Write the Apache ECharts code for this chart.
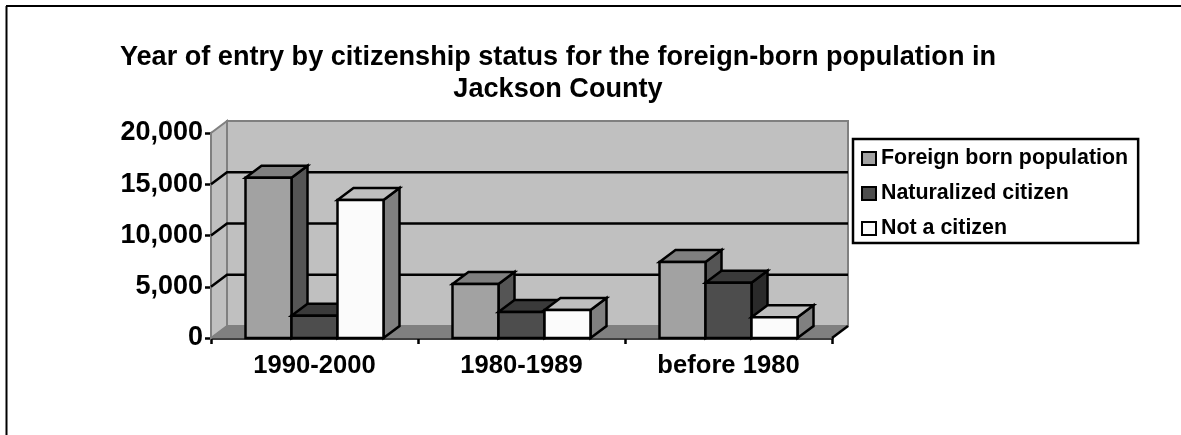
<!DOCTYPE html>
<html>
<head>
<meta charset="utf-8">
<style>
  html, body { margin: 0; padding: 0; background: #fff; }
  #chart { width: 1181px; height: 435px; }
</style>
<script src="https://cdn.jsdelivr.net/npm/echarts@6/dist/echarts.min.js"></script>
</head>
<body>
<div id="chart"></div>
<script>
const categories = ['1990-2000', '1980-1989', 'before 1980']
const seriesNames = ['Foreign born population', 'Naturalized citizen', 'Not a citizen']
const foreignBorn = [15640, 5270, 7415]
const naturalized = [2175, 2540, 5395]
const notCitizen = [13465, 2730, 2020]
const yTicks = [0, 5000, 10000, 15000, 20000]

// front / top / side shades for each series
const shades = [
  ['#a2a2a2', '#7f7f7f', '#555555'],
  ['#4d4d4d', '#3a3a3a', '#2a2a2a'],
  ['#fbfbfb', '#bfbfbf', '#808080']
]

const DEPTH_X = 16
const DEPTH_Y = 12
const BAR_RATIO = 46 / 207

const FONT = '"Liberation Sans", Arial, sans-serif'
const LINE_W = 2.5
const blackLine = { stroke: '#000', lineWidth: LINE_W, fill: null }

function poly(points, fill, stroke, lineWidth) {
  return {
    type: 'polygon',
    shape: { points: points },
    style: { fill: fill, stroke: stroke, lineWidth: lineWidth }
  }
}

// walls, floor and gridlines behind the bars
function renderBackdrop(params, api) {
  const cs = params.coordSys
  const left = cs.x
  const right = cs.x + cs.width
  const top = api.coord([0, yTicks[yTicks.length - 1]])[1]
  const bottom = api.coord([0, 0])[1]
  const children = [
    poly([[left, top], [left + DEPTH_X, top - DEPTH_Y], [left + DEPTH_X, bottom - DEPTH_Y], [left, bottom]], '#c0c0c0', '#808080', 2),
    poly([[left + DEPTH_X, top - DEPTH_Y], [right + DEPTH_X, top - DEPTH_Y], [right + DEPTH_X, bottom - DEPTH_Y], [left + DEPTH_X, bottom - DEPTH_Y]], '#c0c0c0', '#808080', 2),
    poly([[left, bottom], [left + DEPTH_X, bottom - DEPTH_Y], [right + DEPTH_X, bottom - DEPTH_Y], [right, bottom]], '#808080', '#808080', 1),
    { type: 'line', shape: { x1: right, y1: bottom, x2: right + DEPTH_X, y2: bottom - DEPTH_Y }, style: blackLine }
  ]
  yTicks.slice(1, -1).forEach(function(t) {
    const y = api.coord([0, t])[1]
    children.push({
      type: 'polyline',
      shape: { points: [[left, y], [left + DEPTH_X, y - DEPTH_Y], [right + DEPTH_X, y - DEPTH_Y]] },
      style: blackLine
    })
  })
  return { type: 'group', children: children }
}

// one box: front face, top and right side
function makeBarRenderer(seriesIndex) {
  return function(params, api) {
    const catW = api.size([1, 0])[0]
    const w = catW * BAR_RATIO
    const c = api.coord([api.value(0), api.value(1)])
    const base = api.coord([api.value(0), 0])[1]
    const x0 = c[0] - 1.5 * w + seriesIndex * w
    const x1 = x0 + w
    const y = c[1]
    const s = shades[seriesIndex]
    return {
      type: 'group',
      children: [
        poly([[x1, y], [x1 + DEPTH_X, y - DEPTH_Y], [x1 + DEPTH_X, base - DEPTH_Y], [x1, base]], s[2], '#000', LINE_W),
        poly([[x0, y], [x0 + DEPTH_X, y - DEPTH_Y], [x1 + DEPTH_X, y - DEPTH_Y], [x1, y]], s[1], '#000', LINE_W),
        poly([[x0, y], [x1, y], [x1, base], [x0, base]], s[0], '#000', LINE_W)
      ]
    }
  }
}

function barSeries(name, values, i) {
  return {
    name: name,
    type: 'custom',
    renderItem: makeBarRenderer(i),
    itemStyle: { color: shades[i][0] },
    encode: { x: 0, y: 1 },
    data: values.map(function(v, k) { return [k, v] }),
    z: 5 + i
  }
}

const chart = echarts.init(document.getElementById('chart'))
chart.setOption({
  animation: false,
  backgroundColor: '#fff',
  graphic: [
    { type: 'line', z: 100, shape: { x1: 6.5, y1: 6, x2: 6.5, y2: 435 }, style: { stroke: '#000', lineWidth: 2 } },
    { type: 'line', z: 100, shape: { x1: 6, y1: 6, x2: 1181, y2: 6 }, style: { stroke: '#000', lineWidth: 2 } }
  ],
  title: {
    text: 'Year of entry by citizenship status for the foreign-born population in\nJackson County',
    left: 553,
    top: 37,
    textAlign: 'center',
    textStyle: { fontFamily: FONT, fontSize: 27.1, fontWeight: 'bold', color: '#000', lineHeight: 32 }
  },
  grid: { left: 211, right: 349, top: 133, height: 205 },
  legend: {
    data: seriesNames.map(function(n, i) {
      return { name: n, icon: 'rect', itemStyle: { color: shades[i][0], borderColor: '#000', borderWidth: 2 } }
    }),
    orient: 'vertical',
    left: 853,
    top: 139,
    padding: [9, 10, 4, 8],
    itemWidth: 14,
    itemHeight: 13,
    itemGap: 14,
    backgroundColor: '#fff',
    borderColor: '#000',
    borderWidth: 2.5,
    selectedMode: false,
    textStyle: { fontFamily: FONT, fontSize: 21.4, fontWeight: 'bold', color: '#000', height: 21 }
  },
  xAxis: {
    type: 'category',
    data: categories,
    axisLine: { lineStyle: { color: '#000', width: LINE_W } },
    axisTick: { show: true, length: 6, lineStyle: { color: '#000', width: LINE_W } },
    axisLabel: { fontFamily: FONT, fontSize: 25.6, fontWeight: 'bold', color: '#000', margin: 15 }
  },
  yAxis: {
    type: 'value',
    min: 0,
    max: 20000,
    interval: 5000,
    axisLine: { show: true, lineStyle: { color: '#000', width: LINE_W } },
    axisTick: { show: true, length: 6, lineStyle: { color: '#000', width: LINE_W } },
    axisLabel: {
      fontFamily: FONT, fontSize: 27, fontWeight: 'bold', color: '#000', margin: 8, padding: [2, 0, 0, 0],
      formatter: function(v) { return v.toLocaleString('en-US') }
    },
    splitLine: { show: false }
  },
  series: [
    { type: 'custom', silent: true, renderItem: renderBackdrop, data: [[0, 0]], z: 1, clip: false, encode: { x: 0, y: 1 } },
    barSeries(seriesNames[0], foreignBorn, 0),
    barSeries(seriesNames[1], naturalized, 1),
    barSeries(seriesNames[2], notCitizen, 2)
  ]
})
</script>
</body>
</html>
